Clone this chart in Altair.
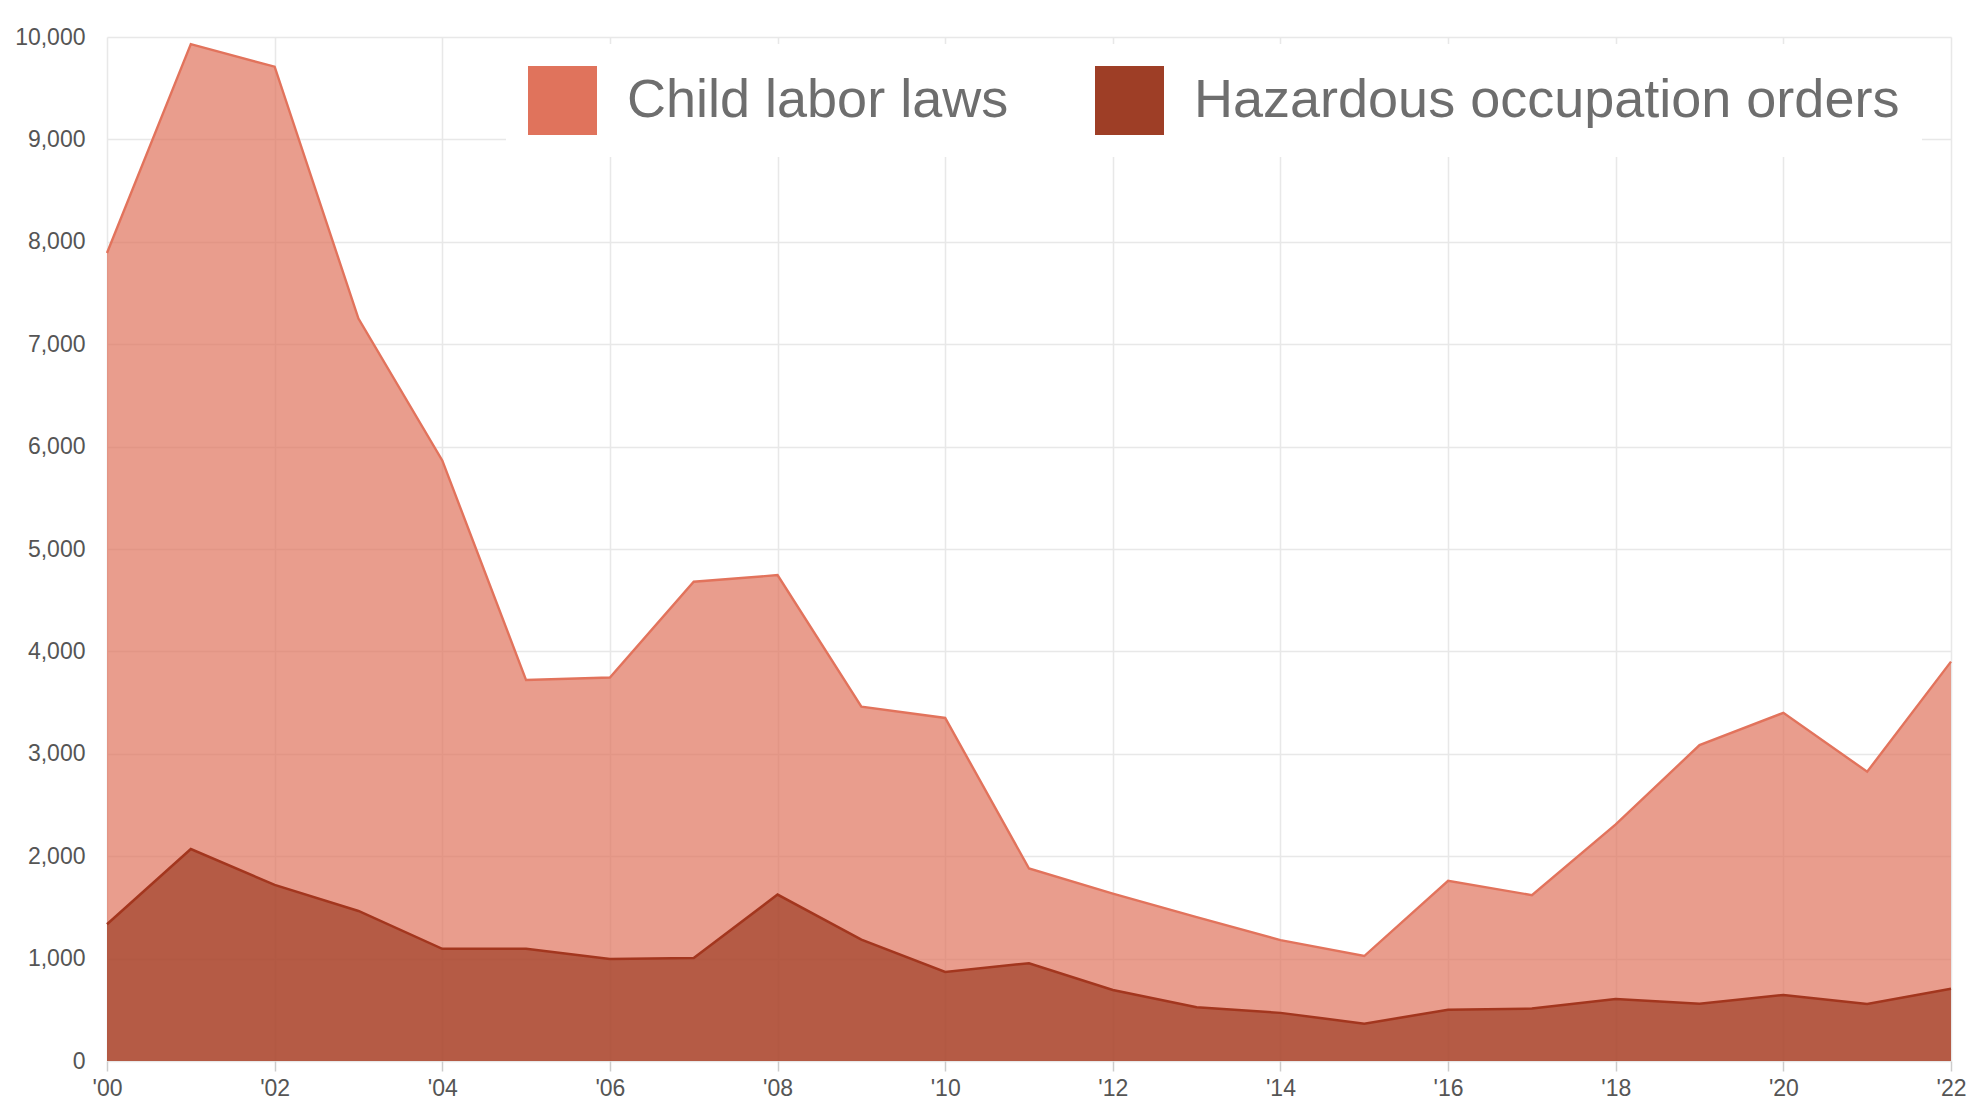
import altair as alt
import pandas as pd

years = list(range(2000, 2023))
child_labor = [7890, 9930, 9710, 7250, 5865, 3720, 3745, 4680, 4745, 3460, 3350,
               1880, 1635, 1405, 1180, 1025, 1760, 1620, 2310, 3085, 3400, 2825, 3900]
hazardous = [1335, 2070, 1720, 1465, 1095, 1095, 995, 1005, 1625, 1185, 870,
             955, 693, 525, 470, 365, 500, 512, 605, 560, 645, 557, 705]
series_names = ["Child labor laws", "Hazardous occupation orders"]
x_ticks = list(range(2000, 2023, 2))
y_ticks = list(range(0, 10001, 1000))

rows = []
for y, c, h in zip(years, child_labor, hazardous):
    rows.append({"year": y, "series": series_names[0], "value": c})
    rows.append({"year": y, "series": series_names[1], "value": h})
df = pd.DataFrame(rows)

x_enc = alt.X(
    "year:Q",
    scale=alt.Scale(domain=[2000, 2022], nice=False, zero=False),
    axis=alt.Axis(
        values=x_ticks, title=None, domain=False, ticks=True, tickSize=10,
        tickColor="#cccccc", tickWidth=1.5, grid=True, gridColor="#e8e8e8", gridWidth=1.5,
        labelExpr='"\'" + substring(toString(datum.value), 2, 4)',
        labelFont="Liberation Sans", labelFontSize=23, labelColor="#555555",
        labelPadding=6, labelFlush=False,
    ),
)
y_enc = alt.Y(
    "value:Q",
    stack=None,
    scale=alt.Scale(domain=[0, 10000], nice=False),
    axis=alt.Axis(
        values=y_ticks, title=None, domain=False, ticks=False, format=",d",
        grid=True, gridColor="#e8e8e8", gridWidth=1.5,
        labelFont="Liberation Sans", labelFontSize=23, labelColor="#555555",
        labelPadding=22,
    ),
)
color_enc = alt.Color(
    "series:N",
    scale=alt.Scale(domain=series_names, range=["#E0735C", "#9E3E26"]),
    legend=alt.Legend(
        title=None, orient="none", legendX=399, legendY=7, direction="horizontal",
        symbolType="square", symbolSize=4761, symbolOpacity=1, symbolStrokeWidth=0,
        labelFont="Liberation Sans", labelFontSize=54, labelColor="#6e6e6e",
        labelOffset=30, columnPadding=86, fillColor="white", padding=22,
        labelLimit=1000,
    ),
)

base = alt.Chart(df).encode(x=x_enc, y=y_enc)

child_area = base.transform_filter(alt.datum.series == series_names[0]).mark_area(
    opacity=0.7).encode(color=color_enc)
child_line = base.transform_filter(alt.datum.series == series_names[0]).mark_line(
    strokeWidth=2.4).encode(color=alt.value("#E2735C"))
haz_area = base.transform_filter(alt.datum.series == series_names[1]).mark_area(
    opacity=0.7).encode(color=color_enc)
haz_line = base.transform_filter(alt.datum.series == series_names[1]).mark_line(
    strokeWidth=2.5).encode(color=alt.value("#A3361E"))

chart = alt.layer(child_area, child_line, haz_area, haz_line).properties(
    width=1844, height=1024,
    autosize=alt.AutoSizeParams(type="none"),
    padding={"left": 99, "top": 29, "right": 20, "bottom": 41},
    background="white",
).configure_view(strokeWidth=0)

chart.save("out.html", embed_options={"renderer": "svg", "actions": False})
